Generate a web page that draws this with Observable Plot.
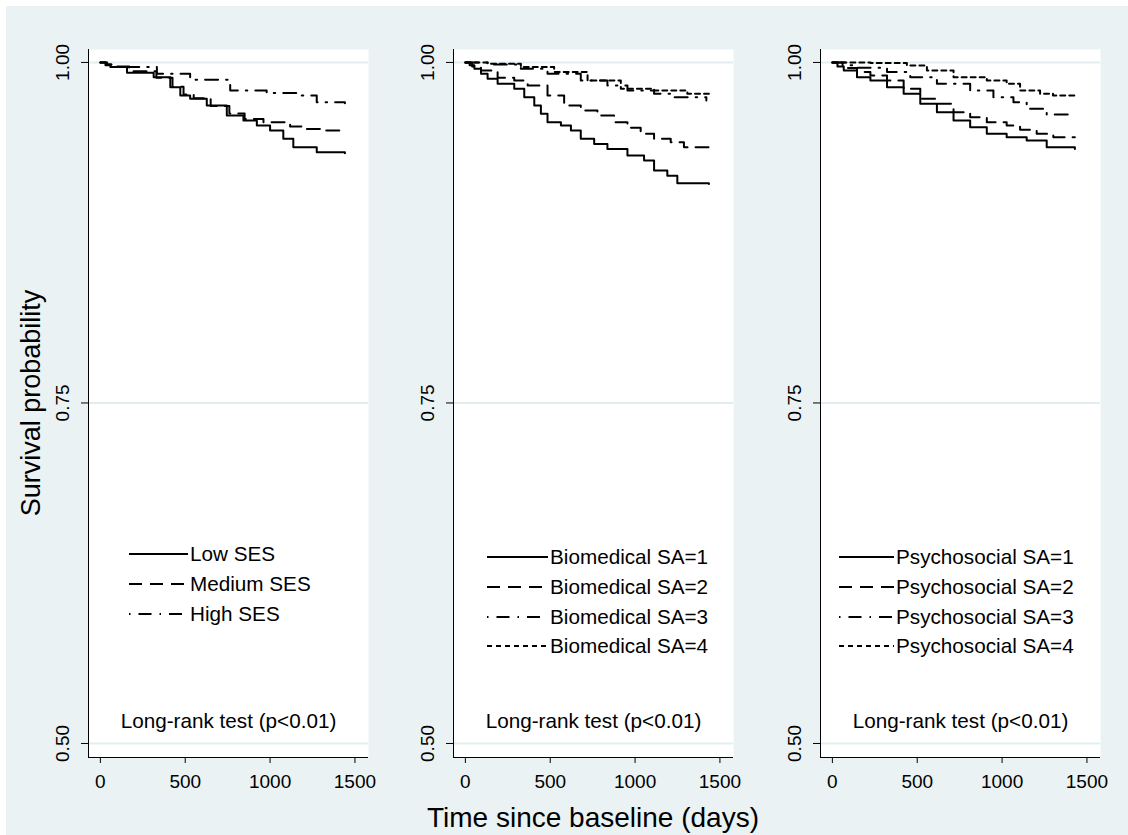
<!DOCTYPE html>
<html>
<head>
<meta charset="utf-8">
<script src="https://cdn.jsdelivr.net/npm/d3@7"></script>
<script src="https://cdn.jsdelivr.net/npm/@observablehq/plot@0.6"></script>
<style>
  html, body { margin: 0; padding: 0; background: #ffffff; }
  #wrap { position: relative; width: 1128px; height: 835px; background: #ffffff; overflow: hidden;
          font-family: "Liberation Sans", Arial, sans-serif; color: #000; }
  #bg { position: absolute; left: 6px; top: 6px; right: 0; bottom: 0; background: #eaf2f3; }
  .panel { position: absolute; top: 0; }
  .legrow { position: absolute; height: 24px; display: flex; align-items: center; font-size: 20.7px; white-space: nowrap; }
  .legrow svg { display: block; }
  .ytitle { position: absolute; left: 31px; top: 403px; transform: translate(-50%, -50%) rotate(-90deg);
            font-size: 27px; white-space: nowrap; }
  .xtitle { position: absolute; left: 593px; top: 818px; transform: translate(-50%, -50%);
            font-size: 28px; white-space: nowrap; }
</style>
</head>
<body>
<div id="wrap"><div id="bg"></div></div>
<script>
// ---------- data ----------
const timeTicks = [0, 500, 1000, 1500];
const probTicks = [0.50, 0.75, 1.00];
const noteText = "Long-rank test (p<0.01)";
const xTitle = "Time since baseline (days)";
const yTitle = "Survival probability";

// Panel 1: SES  — [days, survival]
const lowSES = [[0,1],[30,0.998],[59,0.9966],[157,0.9924],[314,0.9892],[412,0.9818],[471,0.9757],[529,0.9733],[627,0.9684],[745,0.961],[843,0.9574],[922,0.9537],[1000,0.95],[1078,0.9439],[1137,0.9377],[1275,0.934],[1441,0.9333]];
const mediumSES = [[0,1],[35,0.9985],[65,0.997],[170,0.9935],[330,0.9888],[425,0.9822],[490,0.9765],[550,0.9738],[650,0.968],[760,0.9625],[850,0.9585],[961,0.9561],[1118,0.953],[1196,0.9512],[1314,0.95],[1441,0.95]];
const highSES = [[0,1],[40,0.9985],[98,0.9966],[333,0.9917],[529,0.9873],[765,0.9794],[980,0.9775],[1157,0.9757],[1275,0.9708],[1441,0.970]];
const sesLabels = ["Low SES", "Medium SES", "High SES"];

// Panel 2: Biomedical SA
const bio1 = [[0,1],[25,0.998],[53,0.9953],[92,0.9917],[131,0.988],[190,0.9843],[288,0.9806],[347,0.9745],[406,0.9684],[445,0.9623],[484,0.9561],[563,0.9537],[622,0.95],[680,0.9439],[759,0.9402],[837,0.9365],[955,0.9316],[1053,0.928],[1112,0.9206],[1190,0.9169],[1249,0.9113],[1435,0.9108]];
const bio2 = [[0,1],[40,0.997],[92,0.9941],[190,0.9887],[288,0.9868],[367,0.9831],[484,0.9757],[582,0.9684],[680,0.9647],[778,0.961],[876,0.9561],[955,0.952],[1033,0.9476],[1112,0.9439],[1210,0.9414],[1288,0.9377],[1435,0.9358]];
const bio3 = [[0,1],[131,0.9985],[327,0.9953],[484,0.9917],[680,0.9868],[837,0.9831],[955,0.9794],[1112,0.977],[1210,0.9745],[1420,0.972]];
const bio4 = [[0,1],[131,0.999],[327,0.9966],[523,0.9929],[720,0.9868],[916,0.9806],[1112,0.9794],[1308,0.977],[1435,0.977]];
const bioLabels = ["Biomedical SA=1", "Biomedical SA=2", "Biomedical SA=3", "Biomedical SA=4"];

// Panel 3: Psychosocial SA
const psy1 = [[0,1],[30,0.997],[67,0.9941],[145,0.9892],[224,0.9868],[322,0.9818],[420,0.977],[518,0.9696],[616,0.9635],[714,0.9574],[812,0.9524],[910,0.9476],[1027,0.9451],[1145,0.9426],[1263,0.9377],[1429,0.9365]];
const psy2 = [[0,1],[80,0.996],[145,0.9929],[224,0.9904],[322,0.9868],[420,0.9806],[518,0.9733],[616,0.9696],[714,0.9635],[812,0.9598],[910,0.9561],[1027,0.9537],[1106,0.9505],[1204,0.9476],[1302,0.9451],[1429,0.9451]];
const psy3 = [[0,1],[60,0.998],[145,0.9961],[322,0.9929],[459,0.9892],[616,0.9843],[812,0.9794],[949,0.9745],[1067,0.9708],[1145,0.966],[1263,0.9617],[1429,0.9617]];
const psy4 = [[0,1],[224,0.9995],[439,0.9978],[557,0.9941],[714,0.9892],[910,0.9868],[1027,0.9843],[1106,0.9794],[1224,0.977],[1300,0.9757],[1429,0.9757]];
const psyLabels = ["Psychosocial SA=1", "Psychosocial SA=2", "Psychosocial SA=3", "Psychosocial SA=4"];

// ---------- styles / layout ----------
const dashStyles = [undefined, "13,8", "13,8,1.5,8", "5,4"];
const legendDash = ["none", "13,8", "1.5,8,13,8", "5,4"];
const xDomain = [-70, 1580];
const yDomain = [0.4897, 1.0095];
const FONT = '"Liberation Sans", Arial, sans-serif';

const panels = [
  {left: 28,  series: [lowSES, mediumSES, highSES], labels: sesLabels, keyX: 129, keyW: 59, rows: [554, 584, 614]},
  {left: 393, series: [bio1, bio2, bio3, bio4], labels: bioLabels, keyX: 487, keyW: 61, rows: [557, 587, 617, 646]},
  {left: 760, series: [psy1, psy2, psy3, psy4], labels: psyLabels, keyX: 839, keyW: 55, rows: [557, 587, 617, 646]}
];

const wrap = document.getElementById("wrap");

for (const p of panels) {
  const chart = Plot.plot({
    width: 345,
    height: 835,
    marginLeft: 60,
    marginRight: 5,
    marginTop: 49,
    marginBottom: 78,
    x: {domain: xDomain},
    y: {domain: yDomain},
    style: {background: "transparent", fontFamily: FONT, color: "black", overflow: "visible"},
    marks: [
      Plot.frame({fill: "white"}),
      Plot.gridY(probTicks, {stroke: "#e3edef", strokeOpacity: 1, strokeWidth: 2}),
      Plot.ruleX([xDomain[0]], {stroke: "black", strokeWidth: 1}),
      Plot.ruleY([yDomain[0]], {stroke: "black", strokeWidth: 1}),
      Plot.axisX(timeTicks, {tickSize: 6, tickPadding: 11, fontSize: 19, label: null, tickFormat: d => String(d)}),
      Plot.axisY(probTicks, {tickSize: 7, tickFormat: () => "", label: null}),
      Plot.text(probTicks, {y: d => d, text: d => d.toFixed(2), frameAnchor: "left", dx: -26, rotate: -90,
                            fontSize: 19, lineAnchor: "middle", textAnchor: "middle", fill: "black"}),
      ...p.series.map((s, i) => Plot.line(s, {x: d => d[0], y: d => d[1], curve: "step-after",
                            stroke: "black", strokeWidth: 2, strokeDasharray: dashStyles[i]})),
      Plot.text([noteText], {text: d => d, frameAnchor: "bottom", dy: -36, fontSize: 20.7,
                             lineAnchor: "middle", fill: "black"})
    ]
  });
  chart.classList.add("panel");
  chart.style.left = p.left + "px";
  chart.style.top = "0px";
  chart.style.position = "absolute";
  wrap.appendChild(chart);

  // legend
  p.labels.forEach((lab, i) => {
    const row = document.createElement("div");
    row.className = "legrow";
    row.style.left = p.keyX + "px";
    row.style.top = (p.rows[i] - 12) + "px";
    const svgNS = "http://www.w3.org/2000/svg";
    const svg = document.createElementNS(svgNS, "svg");
    svg.setAttribute("width", p.keyW);
    svg.setAttribute("height", 24);
    const ln = document.createElementNS(svgNS, "line");
    ln.setAttribute("x1", 0); ln.setAttribute("x2", p.keyW);
    ln.setAttribute("y1", 12); ln.setAttribute("y2", 12);
    ln.setAttribute("stroke", "black");
    ln.setAttribute("stroke-width", 2);
    if (legendDash[i] !== "none") ln.setAttribute("stroke-dasharray", legendDash[i]);
    svg.appendChild(ln);
    row.appendChild(svg);
    const span = document.createElement("span");
    span.textContent = lab;
    span.style.marginLeft = "2px";
    row.appendChild(span);
    wrap.appendChild(row);
  });
}

const yt = document.createElement("div");
yt.className = "ytitle"; yt.textContent = yTitle; wrap.appendChild(yt);
const xt = document.createElement("div");
xt.className = "xtitle"; xt.textContent = xTitle; wrap.appendChild(xt);
</script>
</body>
</html>
